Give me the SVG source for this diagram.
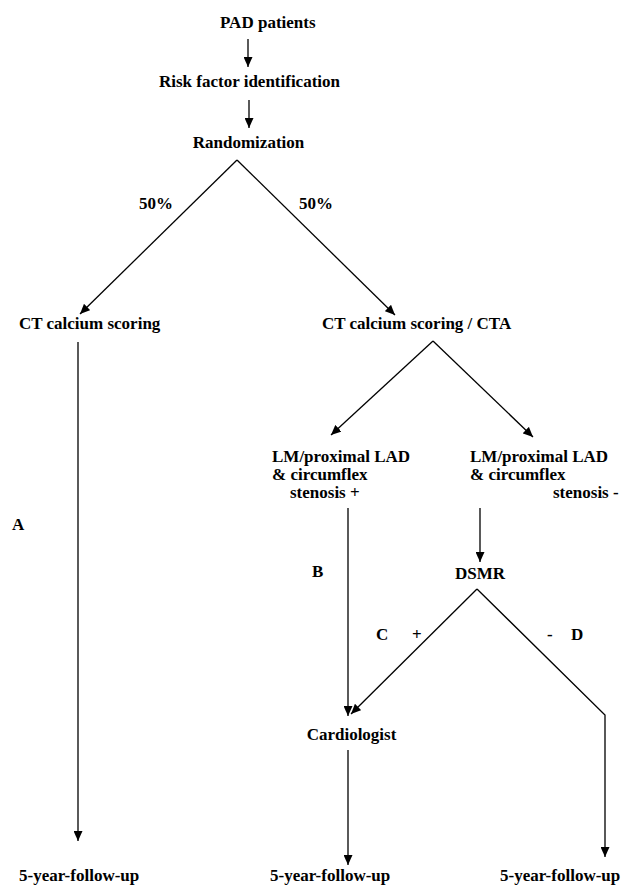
<svg xmlns="http://www.w3.org/2000/svg" width="626" height="885" viewBox="0 0 626 885">
<style>
text{font-family:"Liberation Serif","Times New Roman",serif;font-weight:bold;font-size:17px;fill:#000}
.c{text-anchor:middle}
.ln{stroke:#000;stroke-width:1.3;fill:none}
</style>
<defs>
<marker id="ah" markerUnits="userSpaceOnUse" markerWidth="10" markerHeight="9" refX="10" refY="4.5" orient="auto">
<path d="M0,0 L10,4.5 L0,9 z" fill="#000"/>
</marker>
</defs>
<rect width="626" height="885" fill="#fff"/>
<g id="connectors">
<line class="ln" x1="248" y1="39" x2="248" y2="67" marker-end="url(#ah)"/>
<line class="ln" x1="249" y1="100" x2="249" y2="128" marker-end="url(#ah)"/>
<line class="ln" x1="237" y1="160" x2="80" y2="314" marker-end="url(#ah)"/>
<line class="ln" x1="237" y1="160" x2="395" y2="315" marker-end="url(#ah)"/>
<line class="ln" x1="78" y1="342" x2="78" y2="841" marker-end="url(#ah)"/>
<line class="ln" x1="433" y1="341" x2="331" y2="435" marker-end="url(#ah)"/>
<line class="ln" x1="433" y1="341" x2="533" y2="437" marker-end="url(#ah)"/>
<line class="ln" x1="348" y1="508" x2="348" y2="716" marker-end="url(#ah)"/>
<line class="ln" x1="480" y1="508" x2="480" y2="562" marker-end="url(#ah)"/>
<line class="ln" x1="477" y1="589" x2="351" y2="714" marker-end="url(#ah)"/>
<polyline class="ln" points="477,589 605,715 605,857" marker-end="url(#ah)"/>
<line class="ln" x1="348" y1="750" x2="348" y2="865" marker-end="url(#ah)"/>
</g>
<g id="labels">
<text x="139" y="209">50%</text>
<text x="299" y="209">50%</text>
<text x="12" y="530">A</text>
<text x="312" y="577">B</text>
<text x="376" y="640">C</text>
<text x="412" y="640">+</text>
<text x="547" y="640">-</text>
<text x="571" y="640">D</text>
</g>
<g id="pad"><text x="220" y="28">PAD patients</text></g>
<g id="risk"><text class="c" x="249.5" y="87">Risk factor identification</text></g>
<g id="random"><text class="c" x="248.5" y="148">Randomization</text></g>
<g id="ct"><text x="19" y="329">CT calcium scoring</text></g>
<g id="ctcta"><text x="322" y="329">CT calcium scoring / CTA</text></g>
<g id="stenpos"><text x="272" y="462">LM/proximal LAD</text><text x="272" y="480">&amp; circumflex</text><text x="290" y="498">stenosis +</text></g>
<g id="stenneg"><text x="470" y="462">LM/proximal LAD</text><text x="470" y="480">&amp; circumflex</text><text x="553" y="498">stenosis -</text></g>
<g id="dsmr"><text x="455" y="579">DSMR</text></g>
<g id="cardio"><text class="c" x="351.5" y="740">Cardiologist</text></g>
<g id="fu1"><text x="19" y="881">5-year-follow-up</text></g>
<g id="fu2"><text x="270" y="881">5-year-follow-up</text></g>
<g id="fu3"><text x="500" y="881">5-year-follow-up</text></g>
</svg>
